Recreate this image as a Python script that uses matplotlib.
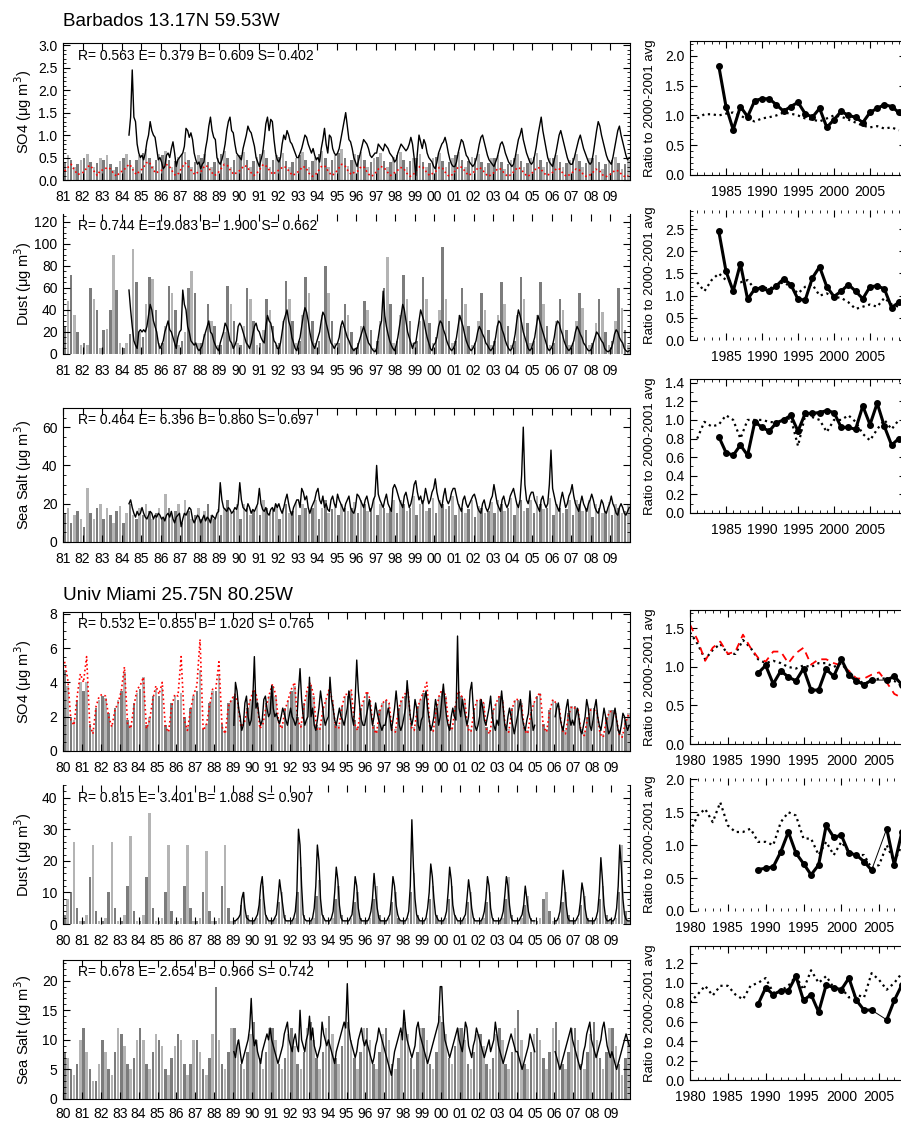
import numpy as np
import matplotlib.pyplot as plt
from matplotlib.ticker import MultipleLocator

plt.rcParams['font.family'] = ['Liberation Sans', 'DejaVu Sans']
nan = np.nan

# ---------------- Barbados 13.17N 59.53W ----------------
brb_years = np.arange(1981, 2010)
brb_obs_start = 1984

# model bars, 6 per year (Jan-Feb ... Nov-Dec)
brb_so4_bar = [
    .40, .55, .45, .30, .35, .45,  .50, .58, .40, .28, .38, .48,  .45, .55, .35, .22, .30, .42,
    .50, .58, .45, .30, .45, .55,  .60, .70, .50, .32, .45, .58,  .55, .65, .45, .28, .42, .52,
    .58, .62, .45, .28, .40, .55,  .50, .58, .40, .30, .40, .50,  .58, .65, .50, .30, .45, .55,
    .55, .62, .45, .28, .42, .52,  .58, .66, .48, .30, .45, .55,  .52, .60, .42, .28, .40, .50,
    .55, .62, .45, .30, .42, .52,  .58, .65, .48, .28, .45, .55,  .60, .68, .50, .32, .45, .58,
    .55, .62, .45, .30, .40, .50,  .52, .60, .42, .28, .40, .52,  .55, .62, .45, .30, .42, .50,
    .50, .58, .40, .28, .38, .48,  .52, .60, .42, .30, .40, .50,  .55, .62, .45, .28, .42, .52,
    .50, .58, .40, .28, .38, .48,  .48, .55, .40, .25, .35, .45,  .50, .58, .42, .28, .38, .48,
    .52, .60, .45, .30, .40, .50,  .48, .55, .40, .28, .38, .45,  .50, .58, .42, .28, .38, .48,
    .48, .55, .40, .25, .35, .45,  .45, .52, .38, .25, .35, .45,
]
brb_so4_red = [
    .20, .28, .35, .22, .12, .15,  .18, .30, .32, .20, .10, .22,  .22, .28, .25, .15, .08, .18,
    .20, .30, .35, .22, .12, .20,  .25, .38, .40, .25, .15, .20,  .22, .35, .32, .20, .10, .15,
    .28, .38, .30, .20, .12, .18,  .20, .32, .30, .18, .10, .15,  .25, .35, .32, .20, .12, .18,
    .22, .32, .30, .18, .10, .15,  .25, .35, .30, .20, .12, .20,  .22, .30, .28, .18, .10, .15,
    .20, .30, .28, .15, .08, .12,  .22, .32, .30, .18, .10, .15,  .25, .35, .32, .20, .12, .18,
    .20, .30, .28, .15, .08, .12,  .22, .30, .28, .18, .10, .15,  .20, .28, .26, .15, .08, .12,
    .22, .30, .28, .18, .10, .15,  .20, .28, .26, .15, .08, .12,  .22, .30, .28, .18, .10, .15,
    .20, .28, .25, .15, .08, .12,  .18, .26, .24, .14, .08, .12,  .20, .28, .25, .15, .08, .12,
    .20, .28, .26, .16, .10, .14,  .18, .26, .24, .14, .08, .12,  .18, .25, .22, .14, .08, .10,
    .16, .24, .22, .12, .07, .10,  .16, .22, .20, .12, .07, .10,
]
# observations, monthly from Jan 1984
brb_so4_obs = [
    nan, nan, nan, nan, 1.0, 1.4, 2.45, 1.4, 1.3, .8, .6, .5,
    .55, .45, .6, .85, 1.0, 1.3, 1.1, 1.0, .95, .7, .45, .5,
    .4, .25, .3, .55, .6, .5, .7, .85, .6, .3, .45, .5,
    .55, .6, .75, 1.15, 1.1, .95, 1.05, .9, .6, .45, .35, .4,
    .25, .35, .4, .7, .9, 1.2, 1.4, 1.1, .95, .9, .5, .4,
    .35, .45, .6, .8, 1.1, 1.3, 1.4, 1.1, 1.05, .8, .6, .55,
    .5, .45, .7, .85, 1.0, 1.2, 1.1, 1.05, .9, .75, .5, .4,
    .3, .45, .6, .9, 1.25, 1.4, 1.1, 1.35, 1.3, .9, .6, .45,
    .4, .5, .8, 1.0, .9, 1.1, 1.0, .85, .8, .7, .6, .5,
    .5, .6, .7, .85, 1.0, .95, .8, .7, .6, .7, .55, .45,
    .5, .4, .7, .9, 1.15, .8, .6, 1.0, .95, .7, .6, .55,
    .6, .7, .9, 1.1, 1.3, 1.5, 1.2, .9, .85, .7, .5, .4,
    .3, .45, .6, .75, .9, .85, .8, .7, .55, .5, .55, .6,
    .6, .8, .75, .7, .65, .8, .75, .7, .6, .55, .5, .4,
    .45, .6, .7, .8, .75, .7, .65, .7, .8, .95, .8, .5,
    .1, .6, 1.0, .85, .7, .9, .8, .6, .5, .45, .4, .3,
    .25, .4, .6, .7, .8, .85, .95, .8, .6, .45, .35, .3,
    .3, .4, .6, .75, .9, .85, .7, .55, .5, .4, .35, .3,
    .35, .45, .6, .8, .95, 1.0, .85, .7, .55, .45, .4, .35,
    .3, .4, .5, .65, .8, .85, .75, .6, .5, .4, .35, .3,
    .35, .5, .7, .9, 1.0, 1.15, .9, .75, .6, .5, .4, .35,
    .4, .55, .75, 1.0, 1.2, 1.4, 1.1, .9, .7, .5, .4, .35,
    .3, .45, .6, .8, 1.0, 1.1, .95, .8, .65, .5, .4, .35,
    .35, .45, .6, .75, .9, 1.0, .85, .7, .6, .5, .4, .35,
    .4, .6, .85, 1.1, 1.3, 1.2, 1.0, .85, .7, .55, .45, .4,
    .35, .5, .7, .9, 1.1, 1.2, 1.0, .85, .7, .55, .45, .5,
]

brb_dust_bar = [
    25, 48, 72, 35, 20, 8,   10, 8, 60, 50, 40, 5,   22, 23, 40, 90, 58, 10,
    5, 10, 18, 95, 65, 20,   15, 45, 70, 68, 40, 10,  10, 25, 62, 55, 40, 8,
    12, 20, 60, 75, 55, 10,  10, 18, 45, 30, 25, 8,   8, 20, 62, 45, 30, 10,
    8, 25, 60, 50, 30, 8,    10, 22, 50, 40, 25, 8,   10, 30, 66, 50, 30, 10,
    12, 35, 70, 55, 30, 10,  12, 35, 80, 55, 30, 10,  10, 25, 45, 35, 20, 5,
    10, 25, 48, 40, 22, 5,   12, 30, 60, 88, 45, 10,  12, 35, 72, 50, 30, 10,
    12, 30, 70, 50, 28, 10,  15, 40, 97, 50, 30, 10,  12, 35, 60, 45, 25, 8,
    10, 30, 55, 40, 22, 8,   12, 35, 65, 45, 25, 8,   12, 35, 70, 50, 28, 10,
    12, 35, 65, 45, 25, 8,   10, 30, 50, 40, 22, 8,   10, 30, 55, 42, 22, 8,
    10, 28, 50, 38, 20, 8,   12, 30, 60, 42, 22, 8,
]
brb_dust_obs = [
    nan, nan, nan, nan, 58, 40, 25, 12, 8, 5, 20, 22,
    20, 22, 20, 25, 35, 45, 40, 30, 25, 20, 10, 5,
    8, 12, 20, 25, 30, 22, 20, 15, 10, 5, 15, 20,
    22, 58, 45, 40, 25, 20, 12, 10, 8, 10, 5, 3,
    5, 8, 15, 20, 25, 30, 20, 18, 12, 8, 5, 3,
    10, 15, 20, 28, 25, 20, 12, 10, 5, 8, 12, 25,
    28, 25, 20, 15, 10, 8, 5, 10, 18, 25, 28, 22,
    20, 15, 12, 10, 25, 35, 30, 28, 20, 12, 10, 5,
    5, 10, 20, 30, 35, 40, 30, 25, 15, 10, 5, 3,
    10, 15, 25, 35, 42, 38, 30, 20, 12, 8, 5, 10,
    15, 20, 30, 38, 35, 28, 22, 15, 10, 8, 5, 8,
    10, 15, 25, 30, 25, 20, 15, 12, 8, 5, 3, 5,
    5, 10, 15, 20, 25, 20, 15, 10, 8, 5, 3, 2,
    5, 15, 25, 30, 57, 35, 25, 18, 12, 8, 5, 3,
    8, 15, 25, 35, 45, 40, 30, 20, 15, 10, 5, 10,
    10, 20, 30, 40, 35, 30, 22, 15, 10, 5, 3, 8,
    10, 15, 25, 30, 28, 22, 18, 12, 8, 5, 3, 5,
    8, 15, 25, 35, 30, 25, 18, 12, 8, 5, 3, 5,
    8, 12, 20, 25, 22, 18, 15, 10, 8, 5, 3, 5,
    8, 15, 25, 30, 28, 22, 18, 12, 8, 5, 3, 5,
    10, 18, 30, 40, 35, 28, 20, 15, 10, 5, 3, 5,
    10, 15, 25, 35, 30, 25, 20, 15, 10, 5, 3, 5,
    8, 15, 25, 30, 28, 22, 18, 12, 8, 5, 3, 5,
    8, 12, 20, 25, 22, 18, 15, 10, 8, 5, 3, 3,
    5, 10, 15, 20, 18, 15, 12, 10, 5, 3, 2, 3,
    5, 10, 18, 22, 20, 15, 12, 10, 5, 3, 2, 3,
]

brb_salt_bar = [
    15, 18, 10, 14, 16, 12,  8, 28, 15, 12, 18, 20,  12, 18, 14, 10, 16, 19,
    10, 15, 20, 14, 12, 18,  14, 20, 16, 12, 15, 18,  12, 25, 18, 14, 16, 20,
    10, 22, 16, 12, 14, 18,  12, 16, 20, 14, 12, 17,  14, 18, 22, 15, 16, 20,
    12, 20, 18, 14, 16, 19,  14, 22, 18, 15, 17, 20,  12, 18, 20, 15, 16, 21,
    14, 20, 18, 16, 18, 22,  12, 18, 22, 15, 17, 20,  14, 20, 18, 16, 18, 21,
    15, 22, 20, 16, 18, 23,  14, 20, 18, 15, 17, 22,  15, 22, 20, 16, 18, 24,
    14, 20, 22, 16, 18, 23,  15, 22, 20, 17, 19, 24,  14, 20, 18, 15, 17, 22,
    13, 19, 18, 15, 16, 21,  15, 22, 20, 16, 18, 23,  14, 20, 22, 16, 18, 22,
    15, 24, 20, 17, 18, 23,  14, 20, 18, 15, 17, 22,  14, 22, 20, 16, 18, 22,
    13, 20, 18, 15, 16, 21,  14, 20, 18, 15, 16, 20,
]
brb_salt_obs = [
    nan, nan, nan, nan, 20, 22, 18, 15, 13, 16, 14, 15,
    18, 15, 13, 12, 14, 16, 15, 12, 14, 13, 15, 14,
    12, 13, 11, 14, 15, 13, 16, 12, 10, 13, 14, 15,
    8, 12, 15, 14, 16, 18, 17, 12, 10, 12, 14, 13,
    10, 12, 14, 11, 13, 12, 10, 14, 13, 12, 15, 16,
    31, 22, 18, 17, 16, 18, 17, 15, 16, 18, 17, 20,
    31, 22, 18, 17, 16, 20, 18, 15, 17, 16, 18, 20,
    28, 20, 17, 16, 18, 15, 14, 17, 18, 16, 20, 18,
    20, 17, 15, 18, 22, 25, 20, 16, 14, 18, 20, 22,
    22, 18, 28, 26, 22, 24, 18, 15, 18, 20, 22, 26,
    28, 22, 20, 24, 18, 20, 17, 16, 22, 24, 20, 18,
    25, 22, 20, 18, 16, 20, 22, 24, 18, 16, 15, 18,
    25, 24, 22, 20, 18, 22, 24, 20, 16, 18, 22, 24,
    40, 25, 22, 20, 18, 22, 25, 20, 18, 16, 28, 30,
    28, 25, 22, 20, 18, 24, 26, 22, 18, 20, 24, 30,
    32, 26, 22, 24, 20, 22, 28, 24, 20, 22, 26, 28,
    33, 26, 22, 20, 18, 24, 28, 22, 20, 22, 26, 28,
    28, 24, 20, 18, 16, 22, 24, 20, 18, 20, 22, 24,
    25, 22, 18, 16, 15, 20, 22, 18, 16, 18, 22, 24,
    30, 25, 20, 18, 16, 22, 24, 20, 18, 20, 24, 26,
    28, 24, 20, 18, 22, 35, 60, 30, 22, 20, 24, 26,
    26, 22, 20, 18, 16, 22, 24, 20, 18, 20, 30, 48,
    28, 24, 20, 18, 16, 22, 26, 22, 18, 20, 24, 26,
    30, 24, 20, 18, 16, 20, 24, 20, 18, 16, 20, 22,
    25, 22, 18, 16, 15, 18, 22, 20, 16, 15, 18, 20,
    24, 20, 18, 15, 14, 18, 20, 18, 15, 14, 16, 18,
]

# annual ratios to 2000-2001 average
brb_ratio_obs_years = np.arange(1984, 2010)
brb_ratio_mod_years = np.arange(1981, 2010)
brb_so4_ratio_obs = [1.83, 1.15, 0.76, 1.15, 0.98, 1.25, 1.28, 1.28, 1.18, 1.07, 1.15, 1.22, 1.03,
                     0.97, 1.12, 0.80, 0.93, 1.07, 1.00, 0.97, 0.88, 1.05, 1.12, 1.18, 1.15, 1.05]
brb_so4_ratio_mod = [0.95, 1.02, 1.02, 1.00, 1.03, 1.05, 1.00, 0.93, 0.90, 0.95, 0.97, 1.00, 1.05, 1.03,
                     1.00, 0.95, 0.93, 0.90, 0.95, 1.00, 0.98, 0.93, 0.88, 0.83, 0.80, 0.82, 0.78, 0.80, 0.75]
brb_dust_ratio_obs = [2.45, 1.55, 1.10, 1.72, 0.92, 1.15, 1.17, 1.10, 1.22, 1.38, 1.25, 0.92, 0.90,
                      1.40, 1.65, 1.20, 0.98, 1.10, 1.25, 1.10, 0.93, 1.20, 1.22, 1.15, 0.73, 0.85]
brb_dust_ratio_mod = [1.30, 1.10, 1.35, 1.50, 1.35, 1.30, 1.30, 1.35, 1.15, 1.20, 1.15, 1.25, 1.30, 1.20,
                      1.05, 1.20, 1.25, 1.00, 1.05, 0.97, 0.95, 0.85, 0.70, 0.75, 0.80, 0.75, 0.95, 0.80, 0.75]
brb_salt_ratio_obs = [0.82, 0.65, 0.62, 0.73, 0.62, 0.98, 0.92, 0.88, 0.97, 1.00, 1.05, 0.88, 1.07,
                      1.07, 1.08, 1.10, 1.08, 0.92, 0.92, 0.90, 1.15, 0.95, 1.18, 0.93, 0.73, 0.80]
brb_salt_ratio_mod = [0.80, 0.98, 0.93, 0.95, 1.05, 1.00, 0.80, 1.00, 1.00, 1.00, 0.98, 0.97, 1.00, 1.02,
                      0.72, 1.05, 1.03, 1.00, 0.87, 1.00, 1.00, 1.05, 0.98, 0.85, 0.78, 0.90, 1.00, 0.90, 1.00]

# ---------------- Univ Miami 25.75N 80.25W ----------------
mia_years = np.arange(1980, 2010)
mia_obs_start = 1989

mia_so4_bar = [
    4.7, 3.8, 2.0, 1.8, 3.0, 4.0,  3.5, 4.0, 1.6, 1.2, 2.5, 3.0,  3.2, 3.1, 2.2, 1.5, 2.5, 3.0,
    3.5, 4.6, 1.8, 1.5, 2.8, 3.4,  3.6, 4.3, 1.5, 2.0, 3.2, 3.6,  3.2, 3.7, 1.5, 1.2, 2.8, 3.2,
    3.0, 3.4, 2.0, 1.4, 2.5, 3.2,  3.5, 4.7, 1.3, 1.6, 2.8, 3.5,  3.5, 4.5, 1.6, 1.2, 2.8, 3.0,
    3.2, 2.8, 1.6, 1.8, 2.5, 3.0,  3.5, 3.0, 1.5, 1.8, 2.8, 3.2,  3.8, 3.2, 1.8, 1.5, 2.5, 3.0,
    3.5, 3.8, 2.0, 1.6, 2.8, 3.5,  3.8, 3.2, 1.5, 1.4, 2.5, 3.0,  3.5, 3.0, 1.6, 1.5, 2.6, 3.2,
    3.2, 3.5, 1.8, 1.4, 2.5, 3.0,  3.4, 3.0, 1.5, 1.2, 2.4, 2.8,  3.0, 2.8, 1.4, 1.3, 2.5, 3.0,
    3.2, 3.5, 1.6, 1.4, 2.6, 3.0,  3.4, 3.0, 1.5, 1.3, 2.5, 3.2,  3.5, 3.2, 1.6, 1.4, 2.6, 3.4,
    3.2, 3.0, 1.5, 1.3, 2.5, 3.0,  3.0, 2.8, 1.4, 1.2, 2.4, 2.8,  3.2, 3.0, 1.5, 1.3, 2.5, 3.0,
    3.0, 2.8, 1.4, 1.2, 2.3, 2.8,  3.2, 3.4, 1.6, 1.3, 2.4, 3.0,  2.8, 2.6, 1.4, 1.2, 2.2, 2.6,
    2.6, 2.5, 1.3, 1.1, 2.0, 2.5,  2.5, 2.4, 1.2, 1.0, 2.0, 2.4,  2.4, 2.2, 1.2, 1.0, 1.8, 2.2,
]
mia_so4_red = [
    5.2, 4.2, 1.8, 1.5, 3.2, 4.5,  4.0, 5.5, 1.5, 1.0, 2.6, 3.2,  3.3, 3.2, 2.0, 1.4, 2.4, 2.8,
    3.5, 4.9, 1.6, 1.3, 2.6, 3.6,  3.8, 4.3, 1.3, 1.8, 3.0, 3.8,  3.3, 4.0, 1.4, 1.1, 2.6, 3.3,
    3.2, 5.5, 1.8, 1.2, 2.4, 3.3,  3.8, 6.5, 1.2, 1.5, 2.6, 3.6,  3.6, 5.2, 1.4, 1.0, 2.6, 3.0,
    3.3, 2.8, 1.4, 1.6, 2.4, 3.0,  3.6, 3.2, 1.3, 1.6, 2.6, 3.3,  3.9, 3.3, 1.6, 1.3, 2.4, 3.0,
    3.6, 4.0, 1.8, 1.4, 2.6, 3.6,  4.0, 3.3, 1.3, 1.2, 2.4, 3.0,  3.6, 3.0, 1.4, 1.3, 2.5, 3.3,
    3.3, 3.6, 1.6, 1.2, 2.4, 3.0,  3.5, 3.0, 1.3, 1.0, 2.3, 2.8,  3.0, 2.8, 1.2, 1.1, 2.4, 3.0,
    3.3, 3.6, 1.4, 1.2, 2.5, 3.0,  3.5, 4.0, 1.3, 1.1, 2.4, 3.3,  3.6, 3.2, 1.4, 1.2, 2.5, 3.5,
    3.2, 3.0, 1.3, 1.1, 2.4, 3.0,  3.0, 2.8, 1.2, 1.0, 2.3, 2.8,  3.2, 3.0, 1.3, 1.1, 2.4, 3.0,
    3.0, 2.8, 1.2, 1.0, 2.2, 2.8,  3.2, 3.4, 1.4, 1.1, 2.3, 3.0,  2.8, 2.6, 1.2, 1.0, 2.1, 2.6,
    2.5, 2.4, 1.1, 0.9, 1.9, 2.4,  2.4, 2.3, 1.0, 0.8, 1.8, 2.3,  2.3, 2.1, 1.0, 0.8, 1.6, 2.1,
]
# observations, monthly from Jan 1989 (no data in 2005)
mia_so4_obs = [
    1.5, 4.0, 3.5, 2.5, 2.0, 1.2, 1.5, 2.8, 3.2, 2.0, 1.5, 1.8,
    3.0, 5.5, 2.5, 2.8, 2.0, 1.5, 1.8, 3.0, 3.2, 2.5, 2.0, 2.2,
    3.8, 2.5, 2.0, 2.2, 1.8, 1.6, 2.0, 2.5, 2.2, 1.8, 1.5, 2.0,
    2.5, 2.0, 1.8, 1.5, 1.8, 3.5, 4.8, 3.0, 2.0, 1.5, 1.8, 2.0,
    4.3, 2.0, 2.5, 1.5, 1.2, 1.8, 2.5, 3.5, 2.8, 2.0, 1.5, 1.8,
    2.0, 4.3, 3.0, 2.5, 1.8, 1.5, 2.0, 2.5, 2.0, 1.8, 1.5, 2.0,
    2.5, 3.5, 2.8, 2.0, 1.5, 3.0, 5.3, 3.5, 2.5, 1.8, 1.5, 1.5,
    2.0, 2.5, 3.0, 2.2, 1.5, 2.0, 2.8, 2.2, 1.8, 1.5, 1.2, 1.5,
    1.5, 2.0, 2.5, 2.0, 1.2, 1.8, 2.5, 3.5, 2.5, 1.5, 1.2, 1.5,
    2.0, 2.5, 4.1, 3.0, 2.0, 1.5, 2.0, 3.0, 2.5, 1.5, 1.2, 1.8,
    2.0, 3.0, 3.5, 2.5, 1.8, 1.2, 1.5, 2.0, 3.0, 2.5, 1.5, 2.0,
    3.0, 3.9, 2.8, 2.0, 1.5, 1.2, 2.0, 2.5, 2.0, 1.8, 6.7, 2.5,
    2.0, 3.0, 2.5, 2.0, 1.5, 2.0, 3.5, 4.0, 2.5, 1.5, 1.2, 1.5,
    2.0, 3.0, 2.5, 1.8, 1.5, 2.0, 2.5, 3.2, 2.0, 1.5, 1.2, 1.8,
    1.5, 2.5, 3.5, 2.5, 1.5, 1.2, 2.0, 2.5, 2.0, 1.5, 1.0, 1.5,
    2.0, 2.5, 3.0, 2.0, 1.5, 1.2, 1.8, 2.2, 3.5, 2.0, 1.2, 1.5,
    nan, nan, nan, nan, nan, nan, nan, nan, nan, nan, nan, nan,
    2.0, 2.5, 2.8, 2.0, 1.5, 1.2, 1.8, 2.5, 3.0, 2.0, 1.5, 1.8,
    1.5, 2.0, 2.5, 2.0, 1.2, 1.0, 1.5, 2.0, 3.0, 2.5, 1.5, 1.2,
    1.8, 2.5, 3.0, 2.0, 1.5, 1.2, 1.8, 2.5, 2.0, 1.5, 1.0, 1.2,
    1.5, 2.0, 2.5, 1.8, 1.2, 1.0, 1.5, 2.2, 2.0, 1.5, 1.2, 1.5,
]

mia_dust_bar = [
    3, 8, 10, 26, 5, 1,  1, 3, 15, 25, 4, 1,  1, 2, 10, 26, 5, 1,  1, 3, 12, 28, 4, 1,
    1, 3, 15, 35, 5, 1,  1, 2, 10, 25, 4, 1,  1, 2, 12, 25, 5, 1,  1, 2, 10, 23, 4, 1,
    1, 2, 12, 25, 5, 1,  1, 2, 6, 10, 3, 1,   1, 2, 8, 12, 3, 1,   1, 2, 7, 10, 3, 1,
    1, 2, 10, 18, 3, 1,  1, 2, 9, 14, 3, 1,   1, 2, 8, 12, 3, 1,   1, 2, 7, 10, 2, 1,
    1, 2, 8, 12, 3, 1,   1, 2, 7, 10, 2, 1,   1, 2, 10, 16, 3, 1,  1, 2, 8, 12, 3, 1,
    1, 2, 8, 12, 3, 1,   1, 2, 7, 10, 2, 1,   1, 2, 7, 10, 2, 1,   1, 2, 8, 15, 3, 1,
    1, 2, 6, 9, 2, 1,    1, 2, 8, 10, 4, 1,   1, 2, 7, 10, 3, 1,   1, 2, 6, 9, 2, 1,
    1, 2, 8, 12, 3, 1,   1, 2, 10, 25, 4, 1,
]
mia_dust_obs = [
    1, 1, 1.5, 2, 3, 8, 10, 5, 2, 1.5, 1, 1,
    1, 1, 2, 3, 6, 12, 15, 8, 3, 2, 1, 1,
    1, 1, 2, 3, 8, 14, 10, 6, 2, 1, 1, 1,
    1, 1, 2, 4, 10, 30, 25, 12, 3, 1.5, 1, 1,
    1, 1, 2, 5, 12, 25, 20, 8, 3, 2, 1, 1,
    1, 1, 2, 4, 10, 18, 14, 6, 2, 1, 1, 1,
    1, 1, 2, 3, 8, 15, 12, 5, 2, 1, 1, 1,
    1, 1, 2, 4, 8, 16, 10, 5, 2, 1, 1, 1,
    1, 1, 2, 3, 8, 15, 12, 6, 3, 1.5, 1, 1,
    1, 1, 2, 4, 12, 33, 18, 8, 3, 2, 1, 1,
    1, 1, 2, 5, 10, 19, 15, 8, 3, 2, 1, 1,
    1, 1, 2, 4, 10, 18, 14, 6, 3, 2, 1, 1,
    1, 1, 2, 3, 8, 14, 10, 5, 2, 1, 1, 1,
    1, 1, 2, 4, 8, 15, 12, 5, 2, 1, 1, 1,
    1, 1, 2, 4, 9, 15, 12, 6, 2, 1, 1, 1,
    1, 1, 2, 3, 6, 12, 8, 4, 2, 1, 1, 1,
    nan, nan, nan, nan, nan, nan, nan, nan, nan, nan, nan, nan,
    1, 1, 2, 4, 9, 17, 12, 6, 2, 1, 1, 1,
    1, 1, 2, 3, 7, 13, 10, 5, 2, 1, 1, 1,
    1, 1, 2, 4, 10, 21, 14, 6, 2, 1, 1, 1.5,
    1, 1, 2, 5, 12, 25, 18, 8, 3, 1.5, 1, 1,
]

mia_salt_bar = [
    8, 7, 5, 4, 6, 10,    12, 8, 5, 3, 3, 6,    10, 8, 5, 4, 8, 12,   11, 9, 6, 5, 7, 10,
    12, 10, 6, 5, 8, 11,  10, 9, 5, 4, 7, 9,    11, 10, 6, 4, 6, 10,  10, 8, 5, 4, 7, 11,
    19, 10, 6, 5, 8, 12,  12, 10, 6, 5, 8, 11,  13, 10, 7, 5, 8, 12,  12, 10, 6, 5, 7, 11,
    12, 9, 6, 5, 8, 12,   13, 10, 7, 5, 8, 12,  14, 11, 7, 6, 9, 13,  13, 10, 7, 5, 8, 12,
    12, 10, 6, 5, 8, 11,  12, 10, 6, 5, 7, 11,  13, 11, 7, 5, 8, 12,  12, 10, 6, 5, 8, 14,
    13, 11, 7, 6, 9, 12,  12, 10, 6, 5, 8, 11,  11, 9, 6, 5, 7, 11,   12, 10, 6, 5, 8, 12,
    15, 10, 6, 5, 8, 11,  12, 10, 7, 5, 8, 12,  13, 10, 6, 5, 8, 12,  12, 10, 6, 5, 8, 11,
    13, 10, 7, 5, 8, 12,  12, 9, 6, 4, 7, 10,
]
mia_salt_obs = [
    8, 7, 9, 10, 8, 6, 7, 8, 9, 10, 12, 17,
    11, 9, 10, 8, 7, 6, 8, 9, 10, 11, 10, 12,
    10, 9, 8, 7, 6, 7, 8, 9, 11, 12, 13, 10,
    9, 8, 10, 11, 9, 8, 15, 10, 9, 8, 10, 11,
    14, 10, 12, 9, 8, 7, 8, 9, 13, 11, 10, 9,
    10, 9, 8, 7, 6, 8, 9, 10, 11, 12, 13, 12,
    19.5, 12, 10, 9, 8, 7, 8, 10, 11, 12, 10, 9,
    10, 9, 8, 7, 6, 7, 9, 10, 12, 11, 10, 9,
    8, 7, 6, 5, 4, 6, 8, 9, 10, 11, 12, 10,
    15, 12, 10, 9, 8, 7, 8, 9, 12, 13, 11, 10,
    9, 8, 7, 6, 7, 8, 9, 10, 11, 12, 13, 19,
    19, 13, 10, 9, 8, 7, 8, 9, 10, 11, 12, 10,
    9, 8, 10, 13, 12, 9, 8, 7, 9, 10, 12, 11,
    10, 9, 8, 7, 8, 9, 10, 8, 9, 10, 13, 11,
    9, 8, 7, 6, 7, 8, 9, 10, 11, 10, 9, 8,
    8, 7, 6, 5, 6, 7, 8, 9, 11, 10, 9, 8,
    nan, nan, nan, nan, nan, nan, nan, nan, nan, nan, nan, nan,
    8, 7, 6, 5, 6, 7, 8, 9, 10, 11, 12, 10,
    9, 8, 7, 6, 5, 6, 8, 9, 11, 12, 13, 10,
    9, 8, 7, 8, 9, 10, 12, 13, 11, 9, 8, 7,
    8, 7, 6, 5, 6, 7, 8, 9, 10, 11, 10, 9,
]

mia_ratio_obs_years = np.arange(1989, 2010)
mia_ratio_mod_years = np.arange(1980, 2010)
mia_so4_ratio_obs = [0.92, 1.02, 0.78, 0.95, 0.87, 0.82, 0.98, 0.70, 0.70, 0.97, 0.88, 1.10, 0.90,
                     0.82, 0.77, 0.83, nan, 0.83, 0.88, 0.77, 0.75]
mia_so4_ratio_mod = [1.45, 1.30, 1.10, 1.22, 1.30, 1.17, 1.17, 1.35, 1.25, 1.10, 1.05, 1.08, 1.05, 1.00, 0.98,
                     1.02, 1.00, 1.05, 1.05, 1.00, 1.05, 0.92, 0.85, 0.78, 0.82, 0.85, 0.85, 0.82, 0.75, 0.72]
mia_so4_ratio_red = [1.55, 1.35, 1.08, 1.25, 1.33, 1.17, 1.20, 1.42, 1.25, 1.12, 1.07, 1.20, 1.20, 1.05, 1.18,
                     1.25, 1.03, 1.10, 1.10, 1.05, 1.02, 0.95, 0.85, 0.85, 0.90, 0.93, 0.80, 0.65, 0.60, 0.60]
mia_dust_ratio_obs = [0.63, 0.65, 0.67, 0.90, 1.20, 0.88, 0.72, 0.55, 0.70, 1.30, 1.12, 1.15, 0.88,
                      0.85, 0.75, 0.62, nan, 1.25, 0.70, 1.20, 1.10]
mia_dust_ratio_mod = [1.20, 1.45, 1.55, 1.35, 1.65, 1.30, 1.20, 1.20, 1.25, 1.05, 1.05, 1.00, 1.35, 1.50, 1.45,
                      1.10, 1.10, 0.85, 1.05, 0.85, 1.05, 0.90, 0.85, 0.85, 0.65, 0.70, 1.00, 0.75, 1.00, 1.10]
mia_salt_ratio_obs = [0.78, 0.95, 0.88, 0.92, 0.92, 1.07, 0.82, 0.88, 0.70, 0.98, 0.95, 0.93, 1.05,
                      0.82, 0.72, 0.72, nan, 0.62, 0.82, 0.98, 0.85]
mia_salt_ratio_mod = [0.80, 0.88, 0.97, 0.87, 0.97, 0.97, 0.88, 0.83, 0.97, 1.00, 1.05, 0.90, 0.92, 0.97, 1.07,
                      0.93, 1.13, 1.00, 1.07, 0.95, 0.95, 0.85, 0.88, 0.85, 1.10, 1.03, 0.93, 1.00, 1.10, 1.00]

W, H = 901, 1124
fig = plt.figure(figsize=(W / 100, H / 100), dpi=100)


def rect(x0, y0, x1, y1):
    # pixel box -> figure fraction
    return [x0 / W, 1 - y1 / H, (x1 - x0) / W, (y1 - y0) / H]


def style(ax, ymaj, ymin, no_hspines=False, xpad=7):
    ax.yaxis.set_major_locator(MultipleLocator(ymaj))
    ax.yaxis.set_minor_locator(MultipleLocator(ymin))
    ax.tick_params(which='both', direction='in', top=True, right=True, labelsize=10)
    ax.tick_params(which='major', length=5, width=0.8)
    ax.tick_params(which='minor', length=2.5, width=0.6)
    ax.tick_params(axis='x', pad=xpad)
    ax.tick_params(axis='y', pad=4)
    for s in ax.spines.values():
        s.set_linewidth(0.8)
    if no_hspines:
        ax.spines['top'].set_visible(False)
        ax.spines['bottom'].set_visible(False)


def left_panel(box, years, bars, obs, obs_start, ylim, ymaj, ymin, ylabel, stats, red=None,
               no_hspines=False, xpad=7):
    ax = fig.add_axes(rect(*box))
    years = np.asarray(years)
    xb = (years[:, None] + (np.arange(6) + 0.5) / 6).ravel()
    shade = ['#7c7c7c', '#b4b4b4'] * (len(xb) // 2)
    ax.bar(xb, bars, width=0.13, color=shade, linewidth=0)
    if red is not None:
        ax.plot(xb, red, color='red', ls=':', lw=1.2)
    xo = obs_start + (np.arange(len(obs)) + 0.5) / 12
    ax.plot(xo, obs, color='black', lw=1.0)
    ax.set_xlim(years[0], 2010)
    ax.set_ylim(*ylim)
    ax.set_xticks(years)
    ax.set_xticklabels(['%02d' % (y % 100) for y in years])
    style(ax, ymaj, ymin, no_hspines, xpad)
    ax.set_ylabel(ylabel, fontsize=10.5)
    ax.yaxis.set_label_coords(-0.051, 0.5)
    ax.annotate(stats, xy=(0, 1), xycoords='axes fraction', xytext=(11, -9),
                textcoords='offset points', va='center', fontsize=10)
    return ax


def right_panel(box, oyears, obs, myears, mod, ylim, ymaj, ymin, xticks, red=None,
                no_hspines=False):
    ax = fig.add_axes(rect(*box))
    obs = np.asarray(obs, dtype=float)
    oyears = np.asarray(oyears)
    ax.plot(myears, mod, color='black', ls=':', lw=1.6)
    if red is not None:
        ax.plot(myears, red, color='red', ls='--', lw=1.3, dashes=(4, 3))
    ok = ~np.isnan(obs)
    ax.plot(oyears[ok], obs[ok], color='black', lw=0.7)
    ax.plot(oyears, obs, color='black', lw=2.2, marker='o', ms=4)
    ax.set_xlim(1980, 2010)
    ax.set_ylim(*ylim)
    ax.set_xticks(xticks)
    ax.xaxis.set_minor_locator(MultipleLocator(1))
    style(ax, ymaj, ymin, no_hspines)
    ax.set_ylabel('Ratio to 2000-2001 avg', fontsize=9.5)
    ax.yaxis.set_label_coords(-34 / (box[2] - box[0]), 0.5)
    return ax


ug = ' (\u03bcg m$^{3}$)'

# Barbados
fig.text(63 / W, 1 - 22 / H, 'Barbados 13.17N 59.53W', fontsize=13.6, va='center')
left_panel((63, 43, 630, 180), brb_years, brb_so4_bar, brb_so4_obs, brb_obs_start, (0, 3.05), 0.5, 0.1,
           'SO4' + ug, 'R= 0.563 E= 0.379 B= 0.609 S= 0.402', red=brb_so4_red)
left_panel((63, 214, 630, 354), brb_years, brb_dust_bar, brb_dust_obs, brb_obs_start, (0, 127), 20, 5,
           'Dust' + ug, 'R= 0.744 E=19.083 B= 1.900 S= 0.662', no_hspines=True)
left_panel((63, 408, 630, 542), brb_years, brb_salt_bar, brb_salt_obs, brb_obs_start, (0, 70), 20, 5,
           'Sea Salt' + ug, 'R= 0.464 E= 6.396 B= 0.860 S= 0.697')

brb_xt = [1985, 1990, 1995, 2000, 2005]
right_panel((690, 41, 906, 175), brb_ratio_obs_years, brb_so4_ratio_obs, brb_ratio_mod_years,
            brb_so4_ratio_mod, (0, 2.25), 0.5, 0.1, brb_xt)
right_panel((690, 210, 906, 340), brb_ratio_obs_years, brb_dust_ratio_obs, brb_ratio_mod_years,
            brb_dust_ratio_mod, (0, 2.93), 0.5, 0.1, brb_xt, no_hspines=True)
right_panel((690, 379, 906, 513), brb_ratio_obs_years, brb_salt_ratio_obs, brb_ratio_mod_years,
            brb_salt_ratio_mod, (0, 1.44), 0.2, 0.1, brb_xt)

# Miami
fig.text(63 / W, 1 - 595 / H, 'Univ Miami 25.75N 80.25W', fontsize=13.6, va='center')
left_panel((63, 612, 630, 751), mia_years, mia_so4_bar, mia_so4_obs, mia_obs_start, (0, 8.1), 2, 0.5,
           'SO4' + ug, 'R= 0.532 E= 0.855 B= 1.020 S= 0.765', red=mia_so4_red)
left_panel((63, 785, 630, 924), mia_years, mia_dust_bar, mia_dust_obs, mia_obs_start, (0, 44), 10, 2,
           'Dust' + ug, 'R= 0.815 E= 3.401 B= 1.088 S= 0.907', no_hspines=True)
left_panel((63, 960, 630, 1099), mia_years, mia_salt_bar, mia_salt_obs, mia_obs_start, (0, 23.5), 5, 1,
           'Sea Salt' + ug, 'R= 0.678 E= 2.654 B= 0.966 S= 0.742', xpad=5.5)

mia_xt = [1980, 1985, 1990, 1995, 2000, 2005]
right_panel((690, 610, 917, 744), mia_ratio_obs_years, mia_so4_ratio_obs, mia_ratio_mod_years,
            mia_so4_ratio_mod, (0, 1.74), 0.5, 0.1, mia_xt, red=mia_so4_ratio_red)
right_panel((690, 778, 917, 911), mia_ratio_obs_years, mia_dust_ratio_obs, mia_ratio_mod_years,
            mia_dust_ratio_mod, (0, 2.02), 0.5, 0.1, mia_xt, no_hspines=True)
right_panel((690, 946, 917, 1080), mia_ratio_obs_years, mia_salt_ratio_obs, mia_ratio_mod_years,
            mia_salt_ratio_mod, (0, 1.38), 0.2, 0.1, mia_xt)

fig.savefig('out.png', dpi=100)
